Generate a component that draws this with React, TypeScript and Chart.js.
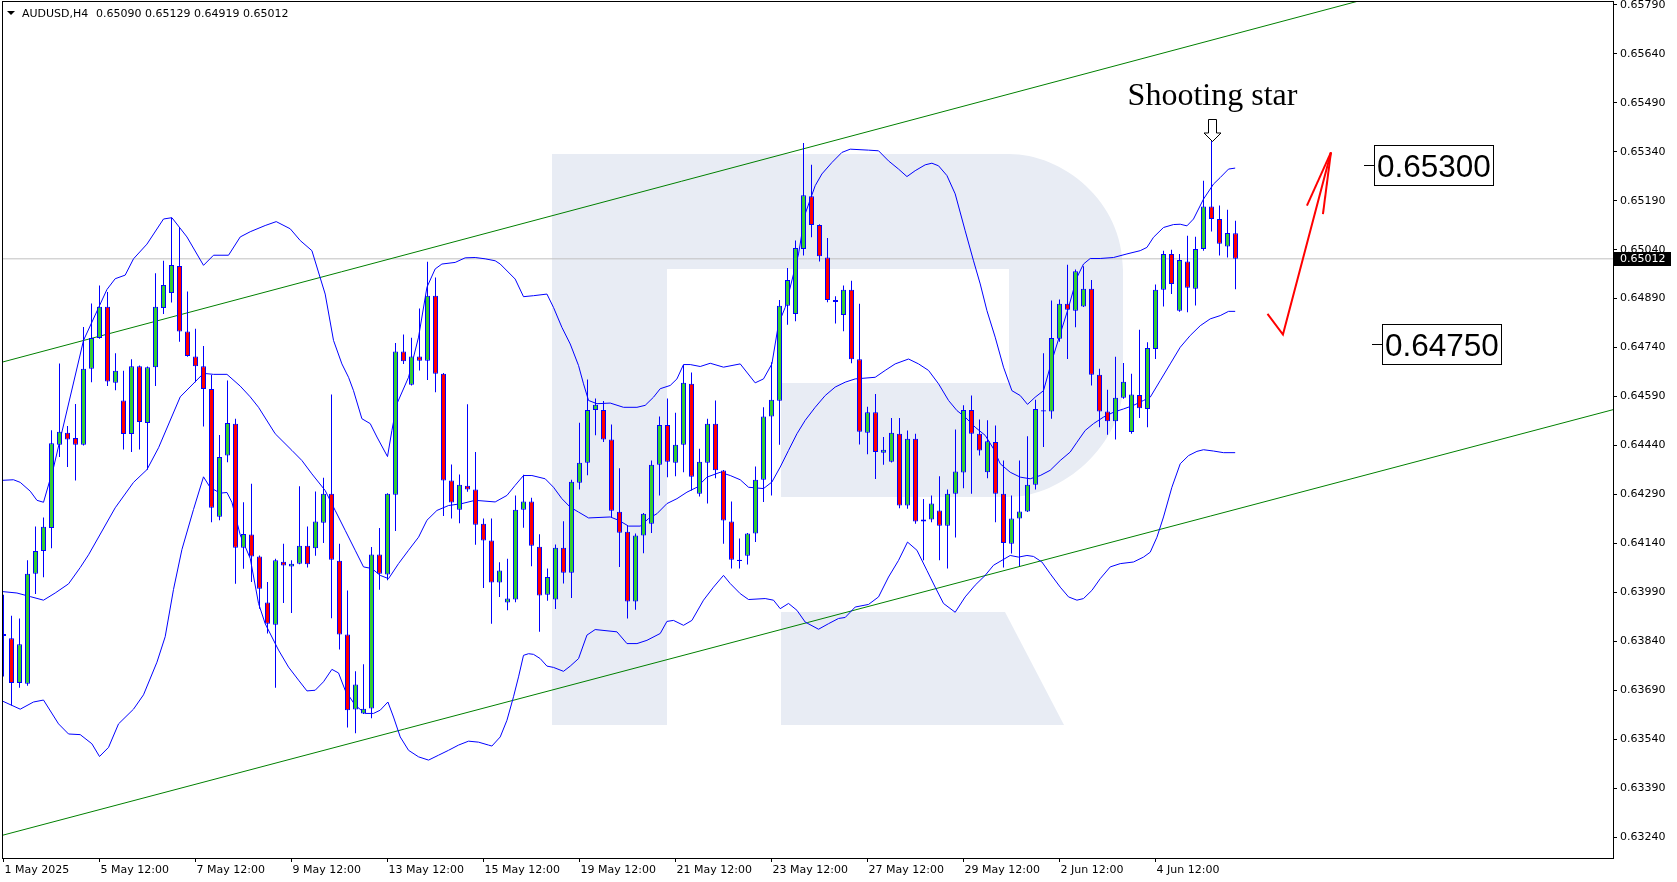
import React, { useEffect, useRef } from "react";
import { Chart, registerables } from "chart.js";

Chart.register(...registerables);

// ---------- DATA ----------
const barOpen = [
  0.63856,0.63849,0.63712,0.63710,0.64047,0.64117,0.64187,0.64442,0.64479,0.64463,
  0.64442,0.64675,0.64769,0.64865,0.64632,0.64578,0.64475,0.64683,0.64509,0.64680,
  0.64861,0.64907,0.64990,0.64789,0.64713,0.64683,0.64613,0.64222,0.64409,0.64507,
  0.64127,0.64167,0.64100,0.63959,0.63891,0.64084,0.64069,0.64078,0.64133,0.64125,
  0.64203,0.64292,0.64087,0.63861,0.63631,0.63619,0.63634,0.64106,0.64045,0.64289,
  0.64728,0.64626,0.64713,0.64700,0.64899,0.64660,0.64333,0.64243,0.64317,0.64305,
  0.64200,0.64149,0.64020,0.63959,0.63968,0.64243,0.64268,0.64130,0.63983,0.63968,
  0.64127,0.64050,0.64326,0.64387,0.64549,0.64549,0.64458,0.64237,0.64176,0.63962,
  0.64164,0.64200,0.64381,0.64503,0.64387,0.64442,0.64629,0.64292,0.64387,0.64507,
  0.64363,0.64207,0.64090,0.64102,0.64170,0.64335,0.64529,0.64577,0.64868,0.64843,
  0.65042,0.65204,0.65116,0.65016,0.64886,0.64840,0.64917,0.64704,0.64479,0.64542,
  0.64418,0.64390,0.64476,0.64256,0.64461,0.64207,0.64213,0.64241,0.64194,0.64292,
  0.64357,0.64549,0.64476,0.64358,0.64451,0.64292,0.64139,0.64216,0.64238,0.64320,
  0.64548,0.64544,0.64767,0.64874,0.64853,0.64866,0.64920,0.64657,0.64544,0.64514,
  0.64586,0.64481,0.64595,0.64552,0.64736,0.64917,0.65027,0.64853,0.65004,0.64920,
  0.65042,0.65172,0.65134,0.65050,0.65090,
];
const barHigh = [
  0.63983,0.63918,0.63910,0.64088,0.64192,0.64219,0.64487,0.64691,0.64500,0.64567,
  0.64803,0.64875,0.64930,0.64910,0.64723,0.64669,0.64704,0.64685,0.64682,0.64968,
  0.65006,0.65138,0.65109,0.64912,0.64798,0.64745,0.64656,0.64472,0.64639,0.64522,
  0.64266,0.64323,0.64103,0.64022,0.64093,0.64139,0.64088,0.64315,0.64192,0.64299,
  0.64341,0.64596,0.64139,0.63996,0.63748,0.63770,0.64129,0.64187,0.64294,0.64754,
  0.64780,0.64770,0.64860,0.65003,0.64955,0.64662,0.64382,0.64351,0.64566,0.64420,
  0.64216,0.64216,0.64082,0.64093,0.64287,0.64350,0.64280,0.64168,0.64063,0.64137,
  0.64208,0.64335,0.64510,0.64642,0.64584,0.64576,0.64504,0.64370,0.64193,0.64170,
  0.64233,0.64394,0.64529,0.64584,0.64540,0.64687,0.64664,0.64430,0.64522,0.64578,
  0.64365,0.64268,0.64155,0.64172,0.64376,0.64557,0.64695,0.64886,0.64984,0.65068,
  0.65367,0.65300,0.65118,0.65076,0.64897,0.64930,0.64945,0.64874,0.64559,0.64598,
  0.64466,0.64524,0.64524,0.64486,0.64476,0.64276,0.64287,0.64346,0.64305,0.64489,
  0.64563,0.64593,0.64520,0.64517,0.64501,0.64394,0.64287,0.64394,0.64468,0.64580,
  0.64723,0.64884,0.64887,0.64994,0.64979,0.64989,0.64947,0.64675,0.64611,0.64712,
  0.64693,0.64660,0.64795,0.64756,0.64933,0.65037,0.65040,0.65027,0.65083,0.65080,
  0.65251,0.65374,0.65175,0.65162,0.65129,
];
const barLow = [
  0.63732,0.63643,0.63698,0.63704,0.63985,0.64036,0.64125,0.64405,0.64374,0.64333,
  0.64440,0.64634,0.64767,0.64622,0.64609,0.64428,0.64420,0.64428,0.64366,0.64622,
  0.64843,0.64878,0.64758,0.64712,0.64634,0.64498,0.64205,0.64211,0.64389,0.64016,
  0.64062,0.64022,0.63940,0.63864,0.63698,0.63957,0.63927,0.64076,0.64066,0.64102,
  0.64141,0.63911,0.63815,0.63576,0.63558,0.63617,0.63604,0.63998,0.64027,0.64178,
  0.64690,0.64624,0.64670,0.64641,0.64603,0.64224,0.64216,0.64202,0.64298,0.64136,
  0.64003,0.63894,0.63976,0.63935,0.63960,0.64188,0.64070,0.63869,0.63964,0.63939,
  0.64017,0.63973,0.64305,0.64349,0.64471,0.64451,0.64221,0.64068,0.63910,0.63937,
  0.64110,0.64172,0.64287,0.64343,0.64346,0.64358,0.64302,0.64284,0.64262,0.64340,
  0.64139,0.64063,0.64063,0.64075,0.64144,0.64267,0.64287,0.64442,0.64810,0.64821,
  0.65022,0.65078,0.65004,0.64879,0.64814,0.64790,0.64692,0.64443,0.64413,0.64337,
  0.64381,0.64388,0.64248,0.64246,0.64200,0.64088,0.64205,0.64088,0.64063,0.64158,
  0.64309,0.64292,0.64409,0.64340,0.64205,0.64066,0.64109,0.64071,0.64236,0.64305,
  0.64435,0.64522,0.64758,0.64705,0.64802,0.64864,0.64624,0.64496,0.64473,0.64458,
  0.64583,0.64476,0.64524,0.64496,0.64705,0.64866,0.64904,0.64850,0.64848,0.64869,
  0.65037,0.65096,0.65022,0.65016,0.64919,
];
const barClose = [
  0.63862,0.63712,0.63831,0.64047,0.64117,0.64191,0.64447,0.64482,0.64458,0.64442,
  0.64675,0.64769,0.64865,0.64636,0.64669,0.64475,0.64683,0.64512,0.64680,0.64865,
  0.64932,0.64993,0.64789,0.64714,0.64683,0.64613,0.64249,0.64405,0.64509,0.64127,
  0.64169,0.64100,0.64001,0.63894,0.64088,0.64072,0.64078,0.64133,0.64076,0.64207,
  0.64292,0.64090,0.63861,0.63629,0.63708,0.63633,0.64106,0.64047,0.64292,0.64728,
  0.64698,0.64713,0.64700,0.64899,0.64660,0.64333,0.64265,0.64320,0.64305,0.64197,
  0.64149,0.64020,0.64057,0.63971,0.64243,0.64268,0.64133,0.63980,0.64037,0.64127,
  0.64050,0.64329,0.64387,0.64549,0.64565,0.64458,0.64240,0.64173,0.63962,0.64164,
  0.64231,0.64381,0.64503,0.64390,0.64442,0.64632,0.64344,0.64390,0.64507,0.64364,
  0.64210,0.64090,0.64086,0.64170,0.64335,0.64529,0.64580,0.64868,0.64947,0.65045,
  0.65207,0.65116,0.65020,0.64886,0.64880,0.64917,0.64704,0.64482,0.64542,0.64420,
  0.64427,0.64479,0.64256,0.64461,0.64207,0.64213,0.64262,0.64194,0.64292,0.64360,
  0.64549,0.64476,0.64425,0.64453,0.64292,0.64141,0.64216,0.64238,0.64320,0.64552,
  0.64544,0.64769,0.64874,0.64856,0.64974,0.64920,0.64657,0.64544,0.64514,0.64586,
  0.64635,0.64596,0.64554,0.64739,0.64917,0.65027,0.64935,0.65008,0.64923,0.65042,
  0.65172,0.65134,0.65058,0.65091,0.65012,
];

// Bollinger bands: [bar position, price]
const bbUpper = [
  [-0.4,0.64333],[1.25,0.64335],[2.09,0.64327],[3.34,0.64300],[4.18,0.64272],[5.0,0.64266],[6.25,0.64372],[10.0,0.64762],
  [12.93,0.64918],[13.96,0.64951],[15.21,0.64962],[16.25,0.65012],[17.93,0.65057],[20.0,0.65134],[21.05,0.65138],[22.93,0.65079],
  [25.0,0.64992],[26.25,0.65023],[28.13,0.65023],[29.59,0.65079],[30.84,0.65095],[32.71,0.65114],[34.09,0.65126],[35.84,0.65104],
  [37.09,0.65068],[38.55,0.65037],[40.21,0.64904],[41.25,0.64762],[42.3,0.64690],[43.13,0.64649],[43.75,0.64608],[44.8,0.64522],
  [45.84,0.64507],[46.68,0.64466],[48.0,0.64406],[48.55,0.64486],[49.18,0.64568],[50.63,0.64649],[51.88,0.64772],[52.93,0.64925],
  [53.96,0.64981],[54.8,0.64996],[56.46,0.65001],[57.71,0.65015],[58.96,0.65016],[60.21,0.65012],[61.46,0.65006],[62.09,0.64996],
  [63.96,0.64950],[65.0,0.64896],[66.25,0.64899],[67.93,0.64904],[68.75,0.64863],[69.8,0.64802],[70.84,0.64751],[71.88,0.64685],
  [72.5,0.64629],[73.13,0.64578],[74.18,0.64568],[75.84,0.64570],[77.5,0.64557],[79.18,0.64557],[80.21,0.64563],[81.25,0.64588],
  [82.09,0.64614],[83.34,0.64624],[84.18,0.64644],[85.0,0.64688],[85.84,0.64688],[87.09,0.64682],[88.34,0.64692],[90.0,0.64680],
  [92.09,0.64690],[93.96,0.64632],[95.0,0.64644],[96.05,0.64690],[96.88,0.64813],[97.71,0.64863],[99.38,0.65027],[100.2,0.65149],
  [101.46,0.65236],[102.3,0.65272],[103.55,0.65307],[104.8,0.65338],[105.84,0.65348],[108.13,0.65345],[109.38,0.65343],[110.63,0.65312],
  [111.88,0.65287],[112.93,0.65264],[113.96,0.65282],[115.21,0.65300],[116.05,0.65305],[116.88,0.65297],[117.93,0.65267],[118.96,0.65211],
  [120.21,0.65098],[121.25,0.65006],[122.09,0.64935],[122.93,0.64853],[123.96,0.64772],[125.0,0.64680],[126.05,0.64608],[127.09,0.64593],
  [128.0,0.64566],[128.96,0.64588],[130.0,0.64608],[131.05,0.64700],[132.09,0.64782],[133.13,0.64863],[134.18,0.64955],[135.0,0.64996],
  [135.84,0.65013],[137.09,0.65013],[138.75,0.65016],[140.43,0.65027],[142.09,0.65037],[142.93,0.65047],[143.75,0.65078],[145.0,0.65108],
  [146.25,0.65117],[147.09,0.65118],[147.93,0.65113],[148.75,0.65134],[150.0,0.65195],[151.25,0.65241],[152.09,0.65261],[153.13,0.65287],
  [153.96,0.65290],
];
const bbMiddle = [
  [-0.41,0.63993],[1.68,0.63988],[3.34,0.63977],[5.0,0.63966],[6.46,0.63988],[8.13,0.64016],[9.59,0.64066],[10.63,0.64105],
  [13.96,0.64249],[16.25,0.64327],[17.93,0.64366],[19.38,0.64433],[22.09,0.64589],[25.0,0.64661],[26.25,0.64658],[27.93,0.64658],
  [29.59,0.64622],[30.84,0.64589],[31.88,0.64557],[33.96,0.64476],[36.05,0.64425],[37.3,0.64394],[38.55,0.64353],[40.21,0.64302],
  [41.46,0.64241],[42.71,0.64180],[43.96,0.64119],[45.0,0.64068],[46.05,0.64063],[47.09,0.64042],[48.13,0.64032],[49.38,0.64078],
  [50.63,0.64119],[51.88,0.64159],[52.93,0.64211],[54.18,0.64241],[55.63,0.64256],[57.3,0.64262],[58.96,0.64272],[61.46,0.64267],
  [62.93,0.64287],[63.96,0.64318],[65.0,0.64348],[66.05,0.64348],[67.71,0.64338],[68.75,0.64312],[69.8,0.64277],[70.84,0.64251],
  [71.88,0.64236],[73.13,0.64218],[75.84,0.64221],[76.88,0.64211],[78.13,0.64193],[79.59,0.64193],[80.63,0.64216],[81.68,0.64231],
  [82.93,0.64262],[84.18,0.64277],[85.43,0.64297],[86.68,0.64312],[87.93,0.64343],[89.59,0.64358],[90.84,0.64348],[92.09,0.64335],
  [93.13,0.64312],[95.0,0.64308],[96.05,0.64328],[97.09,0.64374],[98.13,0.64425],[99.18,0.64476],[100.21,0.64517],[101.46,0.64557],
  [102.71,0.64593],[103.96,0.64619],[105.21,0.64634],[106.46,0.64644],[108.96,0.64649],[110.21,0.64670],[111.46,0.64690],[113.13,0.64705],
  [114.38,0.64690],[115.63,0.64670],[116.88,0.64629],[118.13,0.64578],[119.18,0.64547],[120.21,0.64527],[121.46,0.64496],[122.71,0.64471],
  [123.75,0.64430],[124.59,0.64384],[125.84,0.64358],[127.09,0.64343],[128.34,0.64338],[129.59,0.64348],[130.84,0.64364],[132.09,0.64394],
  [133.34,0.64420],[134.18,0.64450],[135.21,0.64486],[136.25,0.64507],[137.5,0.64527],[138.75,0.64542],[140.0,0.64552],[141.25,0.64563],
  [142.5,0.64578],[143.34,0.64588],[144.59,0.64639],[145.84,0.64690],[147.09,0.64741],[148.34,0.64777],[149.59,0.64807],[150.84,0.64828],
  [152.09,0.64838],[153.13,0.64851],[153.96,0.64851],
];
const bbLower = [
  [-0.41,0.63660],[2.09,0.63632],[3.75,0.63654],[5.0,0.63660],[6.88,0.63587],[8.13,0.63556],[9.59,0.63554],[11.05,0.63526],
  [12.0,0.63487],[13.13,0.63515],[14.38,0.63587],[16.25,0.63632],[17.5,0.63676],[19.18,0.63776],[20.21,0.63854],[21.25,0.63999],
  [22.3,0.64121],[23.75,0.64244],[25.0,0.64344],[25.84,0.64311],[27.09,0.64294],[27.93,0.64296],[28.55,0.64266],[29.59,0.64166],
  [30.84,0.64094],[31.88,0.63956],[32.71,0.63894],[34.38,0.63813],[35.63,0.63761],[36.88,0.63721],[37.93,0.63688],[38.96,0.63690],
  [40.0,0.63716],[41.05,0.63754],[41.88,0.63743],[42.71,0.63690],[43.96,0.63644],[45.21,0.63619],[46.25,0.63619],[47.09,0.63629],
  [48.05,0.63654],[48.75,0.63608],[49.59,0.63547],[50.63,0.63506],[51.88,0.63486],[53.13,0.63476],[54.38,0.63491],[55.63,0.63506],
  [56.88,0.63522],[58.13,0.63534],[59.38,0.63531],[60.63,0.63522],[61.05,0.63519],[62.09,0.63547],[62.93,0.63598],[63.75,0.63670],
  [64.38,0.63731],[65.0,0.63797],[65.63,0.63802],[66.25,0.63800],[67.09,0.63787],[67.93,0.63764],[68.75,0.63760],[70.0,0.63748],
  [70.84,0.63764],[71.88,0.63787],[72.93,0.63859],[73.96,0.63876],[76.68,0.63869],[77.93,0.63833],[79.18,0.63833],[80.43,0.63843],
  [82.09,0.63864],[82.93,0.63901],[83.75,0.63904],[85.0,0.63889],[86.05,0.63904],[87.5,0.63966],[88.75,0.64006],[90.0,0.64042],
  [90.84,0.64017],[92.09,0.63986],[93.13,0.63968],[95.21,0.63971],[96.25,0.63966],[97.09,0.63940],[98.13,0.63956],[99.18,0.63935],
  [100.21,0.63899],[101.88,0.63877],[103.13,0.63894],[104.38,0.63910],[105.21,0.63913],[106.46,0.63945],[108.13,0.63953],[109.38,0.63976],
  [110.63,0.64037],[111.88,0.64088],[113.0,0.64144],[114.18,0.64119],[115.43,0.64057],[116.46,0.64006],[117.5,0.63956],[118.96,0.63929],
  [120.21,0.63976],[121.46,0.64012],[122.71,0.64042],[123.75,0.64073],[125.84,0.64103],[126.88,0.64098],[127.93,0.64103],[128.75,0.64100],
  [129.8,0.64083],[130.84,0.64047],[132.09,0.64006],[133.13,0.63976],[134.18,0.63966],[135.0,0.63971],[136.05,0.63996],[137.09,0.64032],
  [138.34,0.64068],[139.59,0.64078],[141.25,0.64083],[142.5,0.64098],[143.34,0.64113],[144.18,0.64159],[145.0,0.64221],[146.05,0.64312],
  [147.09,0.64384],[148.13,0.64409],[149.18,0.64422],[150.0,0.64427],[151.25,0.64423],[152.5,0.64418],[153.96,0.64418],
];

// trend channel (two parallel lines): [bar position, price]
const channelUpper = [[-1, 0.64690], [170, 0.65806]];
const channelLower = [[-1, 0.63240], [202, 0.64555]];

// projection arrow (red): [bar position, price]
const projectionPath = [[158.0, 0.64843], [159.93, 0.64780], [165.93, 0.65338]];
const projectionHeadA = [[162.93, 0.65175], [165.93, 0.65338]];
const projectionHeadB = [[164.93, 0.65149], [165.93, 0.65338]];

const xTickBars = [0, 12, 24, 36, 48, 60, 72, 84, 96, 108, 120, 132, 144];
const xTickLabels = [
  "1 May 2025", "5 May 12:00", "7 May 12:00", "9 May 12:00", "13 May 12:00", "15 May 12:00",
  "19 May 12:00", "21 May 12:00", "23 May 12:00", "27 May 12:00", "29 May 12:00", "2 Jun 12:00", "4 Jun 12:00",
];
const yTickValues = [
  0.63240, 0.63390, 0.63540, 0.63690, 0.63840, 0.63990, 0.64140, 0.64290, 0.64440,
  0.64590, 0.64740, 0.64890, 0.65040, 0.65190, 0.65340, 0.65490, 0.65640, 0.65790,
];

const titleSymbol = "AUDUSD,H4";
const titleOHLC = [0.65090, 0.65129, 0.64919, 0.65012];
const lastPrice = 0.65012;
const shootingStarBar = 151;
const shootingStarLabel = "Shooting star";
const targetLevels = [0.65300, 0.64750];
const targetBoxBars = [171.35, 172.35];

const X_MIN = -0.1875;
const X_MAX = 201.1875;
const Y_MIN = 0.63176;
const Y_MAX = 0.65802;

const AXIS_FONT = "DejaVu Sans";
const GREEN = "#32cd32";
const RED = "#ff0000";
const BLUE = "#0000ff";

const toPts = (arr: number[][]) => arr.map((p) => ({ x: p[0], y: p[1] }));

const overlayPlugin = {
  id: "mt4overlay",
  beforeDatasetsDraw(chart: any) {
    const { ctx, chartArea: ca } = chart;
    ctx.save();
    ctx.beginPath();
    ctx.rect(ca.left, ca.top, ca.right - ca.left, ca.bottom - ca.top);
    ctx.clip();
    // watermark logo
    ctx.fillStyle = "#e8ecf4";
    ctx.fillRect(552, 154, 115, 571);
    ctx.beginPath();
    ctx.moveTo(552, 154);
    ctx.lineTo(1009, 154);
    ctx.bezierCurveTo(1062, 154, 1123, 200, 1123, 270);
    ctx.lineTo(1123, 384);
    ctx.bezierCurveTo(1123, 445, 1062, 497, 1009, 497);
    ctx.lineTo(781, 497);
    ctx.lineTo(781, 383);
    ctx.lineTo(1009, 383);
    ctx.lineTo(1009, 269);
    ctx.lineTo(552, 269);
    ctx.closePath();
    ctx.fill();
    ctx.beginPath();
    ctx.moveTo(781, 612);
    ctx.lineTo(1005, 612);
    ctx.lineTo(1064, 725);
    ctx.lineTo(781, 725);
    ctx.closePath();
    ctx.fill();
    ctx.restore();
  },
  afterDatasetsDraw(chart: any) {
    const { ctx, chartArea: ca, scales } = chart;
    const xs = scales.x;
    const ys = scales.y;
    ctx.save();
    // shooting star marker
    const ax = Math.round(xs.getPixelForValue(shootingStarBar)) + 0.5;
    const ay = Math.round(ys.getPixelForValue(barHigh[shootingStarBar])) + 0.5;
    ctx.beginPath();
    ctx.moveTo(ax, ay);
    ctx.lineTo(ax + 8.5, ay - 8.5);
    ctx.lineTo(ax + 4, ay - 8.5);
    ctx.lineTo(ax + 4, ay - 22);
    ctx.lineTo(ax - 4, ay - 22);
    ctx.lineTo(ax - 4, ay - 8.5);
    ctx.lineTo(ax - 8.5, ay - 8.5);
    ctx.closePath();
    ctx.fillStyle = "#ffffff";
    ctx.fill();
    ctx.strokeStyle = "#000000";
    ctx.lineWidth = 1;
    ctx.stroke();
    ctx.font = '32px "Liberation Serif", "Times New Roman", serif';
    ctx.fillStyle = "#000000";
    ctx.textAlign = "center";
    ctx.textBaseline = "alphabetic";
    ctx.fillText(shootingStarLabel, ax, ay - 37);
    // target boxes
    targetLevels.forEach((lvl, k) => {
      const bx = Math.round(xs.getPixelForValue(targetBoxBars[k]));
      const py = Math.round(ys.getPixelForValue(lvl));
      ctx.strokeStyle = "#000000";
      ctx.lineWidth = 1;
      ctx.beginPath();
      ctx.moveTo(bx - 10, py + 0.5);
      ctx.lineTo(bx, py + 0.5);
      ctx.stroke();
      ctx.fillStyle = "#ffffff";
      ctx.fillRect(bx, py - 20, 119, 40);
      ctx.strokeRect(bx + 0.5, py - 19.5, 119, 40);
      ctx.fillStyle = "#000000";
      ctx.font = '31.5px "Liberation Sans", Arial, sans-serif';
      ctx.textAlign = "left";
      ctx.fillText(lvl.toFixed(5), bx + 3, py + 12);
    });
    // frame
    ctx.strokeStyle = "#000000";
    ctx.lineWidth = 1;
    ctx.strokeRect(ca.left + 0.5, ca.top + 0.5, ca.right - ca.left, ca.bottom - ca.top);
    ctx.restore();
  },
  afterDraw(chart: any) {
    const { ctx, chartArea: ca, scales } = chart;
    const ys = scales.y;
    ctx.save();
    // last price tag
    const py = ys.getPixelForValue(lastPrice);
    ctx.fillStyle = "#000000";
    ctx.fillRect(ca.right + 1, Math.round(py) - 7, 57, 14);
    ctx.fillStyle = "#ffffff";
    ctx.font = `11px "${AXIS_FONT}"`;
    ctx.textAlign = "left";
    ctx.textBaseline = "middle";
    ctx.fillText(lastPrice.toFixed(5), ca.right + 7, Math.round(py) + 0.5);
    // title
    ctx.fillStyle = "#000000";
    ctx.beginPath();
    ctx.moveTo(7, 11);
    ctx.lineTo(15, 11);
    ctx.lineTo(11, 15);
    ctx.closePath();
    ctx.fill();
    ctx.textBaseline = "alphabetic";
    ctx.fillText(titleSymbol, 22, 17);
    ctx.fillText(titleOHLC.map((v) => v.toFixed(5)).join(" "), 96, 17);
    ctx.restore();
  },
};

export default function App() {
  const ref = useRef<HTMLCanvasElement | null>(null);

  useEffect(() => {
    document.body.style.margin = "0";
    const canvas = ref.current;
    if (!canvas) return;
    const idx = barOpen.map((_, i) => i);
    const wickData = idx.map((i) => ({ x: i, y: [barLow[i], barHigh[i]] }));
    const bodyData = idx.map((i) => ({ x: i, y: [barOpen[i], barClose[i]] }));
    const bodyColor = (c: any) => {
      const i = c.dataIndex;
      return barClose[i] >= barOpen[i] ? GREEN : RED;
    };
    const lineDs = (label: string, data: any[], color: string, width: number, order: number) => ({
      type: "line" as const,
      label,
      data,
      borderColor: color,
      borderWidth: width,
      pointRadius: 0,
      pointHoverRadius: 0,
      tension: 0,
      fill: false,
      order,
    });

    const chart = new Chart(canvas, {
      type: "bar",
      data: {
        datasets: [
          {
            type: "bar",
            label: "body",
            data: bodyData as any,
            backgroundColor: bodyColor as any,
            borderColor: BLUE,
            borderWidth: 1,
            borderSkipped: false,
            barThickness: 5,
            grouped: false,
            inflateAmount: 0,
            order: 0,
          } as any,
          {
            type: "bar",
            label: "wick",
            data: wickData as any,
            backgroundColor: BLUE,
            borderWidth: 0,
            barThickness: 1,
            grouped: false,
            inflateAmount: 0,
            order: 1,
          } as any,
          lineDs("bbUpper", toPts(bbUpper), BLUE, 1, 2),
          lineDs("bbMiddle", toPts(bbMiddle), BLUE, 1, 2),
          lineDs("bbLower", toPts(bbLower), BLUE, 1, 2),
          lineDs("channelUpper", toPts(channelUpper), "#008000", 1, 3),
          lineDs("channelLower", toPts(channelLower), "#008000", 1, 3),
          lineDs("last", [{ x: X_MIN - 1, y: lastPrice }, { x: X_MAX + 1, y: lastPrice }], "#c0c0c0", 1, 4),
          lineDs("arrow", toPts(projectionPath), RED, 2, -1),
          lineDs("arrowA", toPts(projectionHeadA), RED, 2, -1),
          lineDs("arrowB", toPts(projectionHeadB), RED, 2, -1),
        ] as any,
      },
      options: {
        responsive: false,
        maintainAspectRatio: false,
        animation: false,
        devicePixelRatio: 1,
        events: [],
        layout: { autoPadding: false, padding: { left: 2, top: 1, right: 0, bottom: 0 } } as any,
        plugins: { legend: { display: false }, tooltip: { enabled: false }, title: { display: false } },
        scales: {
          x: {
            type: "linear",
            min: X_MIN,
            max: X_MAX,
            offset: false,
            afterFit: (s: any) => {
              s.height = 24;
              s.paddingLeft = 0;
              s.paddingRight = 0;
            },
            afterBuildTicks: (s: any) => {
              s.ticks = xTickBars.map((v) => ({ value: v }));
            },
            ticks: {
              autoSkip: false,
              maxRotation: 0,
              minRotation: 0,
              align: "start",
              labelOffset: 1,
              padding: 2,
              color: "#000000",
              font: { family: AXIS_FONT, size: 11 },
              callback: (_v: any, i: number) => xTickLabels[i],
            },
            grid: { drawOnChartArea: false, drawTicks: true, tickLength: 4, color: "#000000", offset: false },
            border: { display: false },
          } as any,
          y: {
            type: "linear",
            position: "right",
            min: Y_MIN,
            max: Y_MAX,
            afterFit: (s: any) => {
              s.width = 64;
              s.paddingTop = 0;
              s.paddingBottom = 0;
            },
            afterBuildTicks: (s: any) => {
              s.ticks = yTickValues.map((v) => ({ value: v }));
            },
            ticks: {
              autoSkip: false,
              padding: 3,
              color: "#000000",
              font: { family: AXIS_FONT, size: 11 },
              callback: (v: any) => Number(v).toFixed(5),
            },
            grid: { drawOnChartArea: false, drawTicks: true, tickLength: 4, color: "#000000" },
            border: { display: false },
          } as any,
        },
      },
      plugins: [overlayPlugin],
    });
    return () => chart.destroy();
  }, []);

  return (
    <div style={{ width: 1677, height: 882, background: "#ffffff", overflow: "hidden" }}>
      <canvas ref={ref} width={1677} height={882} style={{ display: "block", width: 1677, height: 882 }} />
    </div>
  );
}
